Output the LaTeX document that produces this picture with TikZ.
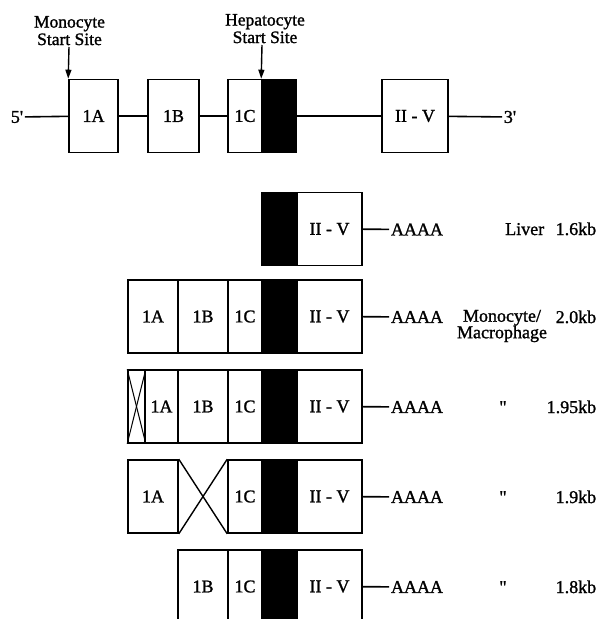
\documentclass[tikz,border=0pt]{standalone}
\usepackage{fontspec}
\setmainfont{Liberation Serif}[Ligatures=TeXOff, FakeBold=1.3]
\usetikzlibrary{arrows.meta}
\tikzset{
  exon/.style={draw, line width=1.6pt, minimum height=73pt, inner sep=0pt},
  darkexon/.style={exon, fill=black},
  lbl/.style={inner sep=1pt},
  sitelbl/.style={lbl, anchor=south, align=center, font=\fontsize{17.5}{17.5}\selectfont},
  startarrow/.style={line width=1.4pt, -{Triangle[length=9pt, width=6pt]}},
}
\begin{document}
\begin{tikzpicture}[x=1pt, y=-1pt, line width=1.6pt, font=\fontsize{18}{16.5}\selectfont]
  \clip (0,0) rectangle (601,619);
  % gene
  \node[lbl] (g5) at (17,117) {5'};
  \node[exon, minimum width=49pt] (gA) at (93.5,116) {1A};
  \node[exon, minimum width=51pt] (gB) at (173.5,116) {1B};
  \node[exon, minimum width=34pt] (gC) at (245,116) {1C};
  \node[darkexon, minimum width=34pt] (gH) at (279,116) {};
  \node[exon, minimum width=66pt] (gE) at (415,116) {II - V};
  \node[lbl] (g3) at (510,117) {3'};
  \draw (g5) -- (gA);
  \draw (gA) -- (gB);
  \draw (gB) -- (gC);
  \draw (gH) -- (gE);
  \draw (gE) -- (g3);
  % start sites
  \coordinate (ms) at (69,47);
  \coordinate (hs) at (262,45);
  \node[sitelbl] (mlbl) at (69.5,47) {Monocyte\\Start Site};
  \node[sitelbl] (hlbl) at (265,45) {Hepatocyte\\Start Site};
  \draw[startarrow] (ms) -- (gA.north west);
  \draw[startarrow] (hs) -- (gH.north west);
  % liver
  \node[darkexon, minimum width=35pt] (r1H) at (279.5,229) {};
  \node[exon, minimum width=65pt] (r1E) at (329.5,229) {II - V};
  \node[lbl] (r1P) at (417,229.5) {AAAA};
  \draw (r1E) -- (r1P);
  \node[lbl, anchor=base east] (r1t) at (546,235) {Liver};
  \node[lbl, anchor=base east] (r1s) at (598,235) {1.6kb};
  % monocyte / macrophage
  \node[exon, minimum width=50pt] (r2A) at (153,316.5) {1A};
  \node[exon, minimum width=50pt] (r2B) at (203,316.5) {1B};
  \node[exon, minimum width=34pt] (r2C) at (245,316.5) {1C};
  \node[darkexon, minimum width=35pt] (r2H) at (279.5,316.5) {};
  \node[exon, minimum width=65pt] (r2E) at (329.5,316.5) {II - V};
  \node[lbl] (r2P) at (417,317) {AAAA};
  \draw (r2E) -- (r2P);
  \node[lbl, align=center] (r2t) at (502,326) {Monocyte/\\Macrophage};
  \node[lbl, anchor=base east] (r2s) at (598,323) {2.0kb};
  % 1.95kb
  \node[exon, minimum width=17pt] (r3X) at (136.5,406.5) {};
  \draw[line width=1pt] (r3X.north west) -- (r3X.south east);
  \draw[line width=1pt] (r3X.south west) -- (r3X.north east);
  \node[exon, minimum width=33pt] (r3A) at (161.5,406.5) {1A};
  \node[exon, minimum width=50pt] (r3B) at (203,406.5) {1B};
  \node[exon, minimum width=34pt] (r3C) at (245,406.5) {1C};
  \node[darkexon, minimum width=35pt] (r3H) at (279.5,406.5) {};
  \node[exon, minimum width=65pt] (r3E) at (329.5,406.5) {II - V};
  \node[lbl] (r3P) at (417,407) {AAAA};
  \draw (r3E) -- (r3P);
  \node[lbl, anchor=base] (r3t) at (503,413) {"};
  \node[lbl, anchor=base east] (r3s) at (598,413) {1.95kb};
  % 1.9kb, 1B skipped
  \node[exon, minimum width=50pt] (r4A) at (153,496.5) {1A};
  \node[exon, minimum width=34pt] (r4C) at (245,496.5) {1C};
  \node[darkexon, minimum width=35pt] (r4H) at (279.5,496.5) {};
  \node[exon, minimum width=65pt] (r4E) at (329.5,496.5) {II - V};
  \draw[line width=1.4pt] (r4A.north east) -- (r4C.south west);
  \draw[line width=1.4pt] (r4A.south east) -- (r4C.north west);
  \node[lbl] (r4P) at (417,497) {AAAA};
  \draw (r4E) -- (r4P);
  \node[lbl, anchor=base] (r4t) at (503,503) {"};
  \node[lbl, anchor=base east] (r4s) at (598,503) {1.9kb};
  % 1.8kb
  \node[exon, minimum width=50pt] (r5B) at (203,586.5) {1B};
  \node[exon, minimum width=34pt] (r5C) at (245,586.5) {1C};
  \node[darkexon, minimum width=35pt] (r5H) at (279.5,586.5) {};
  \node[exon, minimum width=65pt] (r5E) at (329.5,586.5) {II - V};
  \node[lbl] (r5P) at (417,587) {AAAA};
  \draw (r5E) -- (r5P);
  \node[lbl, anchor=base] (r5t) at (503,593) {"};
  \node[lbl, anchor=base east] (r5s) at (598,593) {1.8kb};
\end{tikzpicture}
\end{document}
